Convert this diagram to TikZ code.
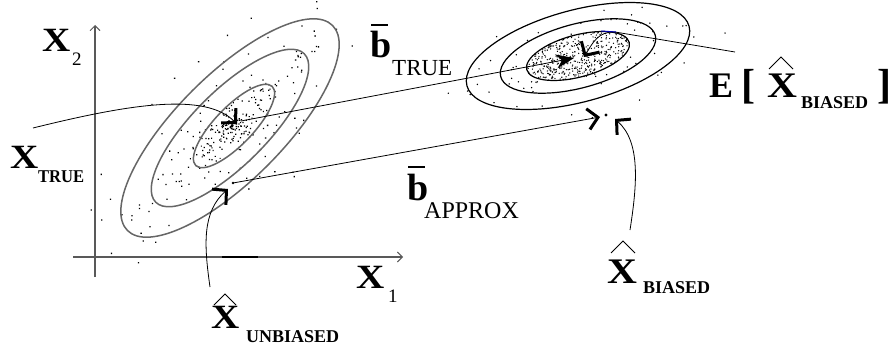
\documentclass[tikz,border=0pt]{standalone}
\usepackage{graphicx}
\usepackage{fontspec}
\setmainfont{Liberation Serif}
\usetikzlibrary{arrows.meta}
\newcommand\fsz[1]{\fontsize{#1}{#1}\selectfont}
\newcommand\wideX{\scalebox{1.15}[1]{X}}
\begin{document}
\begin{tikzpicture}[x=1pt,y=-1pt,
  lbl/.style={inner sep=0pt, anchor=base west, text=black},
  big/.style={lbl, font=\fsz{34}\bfseries},
  bigger/.style={lbl, font=\fsz{36}\bfseries},
  subb/.style={lbl, font=\fsz{18}\bfseries},
  subr/.style={lbl, font=\fsz{19}},
  ellL/.style={line width=1.5pt, black!60},
  ellR/.style={line width=1.2pt, black},
  conn/.style={line width=0.8pt, black},
  barb/.style={-{Straight Barb[length=10pt,width=21pt,line width=3pt]}},
  axis/.style={line width=1.2pt, black!65, -{Straight Barb[length=5pt,width=10pt,line width=0.9pt]}},
  hat/.style={line width=0.9pt, black},
  bbar/.style={line width=2pt, black},
]
\fill[white] (0,0) rectangle (893,345);
\useasboundingbox (0,0) rectangle (893,345);

% ---- key points
\coordinate (Lc) at (230,128);
\coordinate (Rc) at (578,56);

% ---- stipple dots, left cloud
\pgfmathsetseed{11}
\begin{scope}[shift={(232,126)}, rotate=45]
  \foreach \i in {1,...,170}{
    \pgfmathsetmacro\rr{rnd}
    \pgfmathsetmacro\pp{360*rnd}
    \fill ({58*\rr*cos(\pp)},{21*\rr*sin(\pp)}) circle[radius=0.85pt];
  }
  \foreach \i in {1,...,70}{
    \pgfmathsetmacro\rr{sqrt(rnd)}
    \pgfmathsetmacro\pp{360*rnd}
    \fill ({105*\rr*cos(\pp)},{37*\rr*sin(\pp)}) circle[radius=0.9pt];
  }
  \foreach \i in {1,...,45}{
    \pgfmathsetmacro\rr{sqrt(rnd)}
    \pgfmathsetmacro\pp{360*rnd}
    \fill ({150*\rr*cos(\pp)},{55*\rr*sin(\pp)}) circle[radius=0.9pt];
  }
  \foreach \i in {1,...,30}{
    \pgfmathsetmacro\rr{0.8+0.5*rnd}
    \pgfmathsetmacro\pp{360*rnd}
    \fill ({150*\rr*cos(\pp)},{62*\rr*sin(\pp)}) circle[radius=0.9pt];
  }
\end{scope}

% ---- stipple dots, right cloud
\begin{scope}[shift={(Rc)}, rotate=15]
  \foreach \i in {1,...,420}{
    \pgfmathsetmacro\rr{sqrt(rnd)}
    \pgfmathsetmacro\pp{360*rnd}
    \fill ({53*\rr*cos(\pp)},{21*\rr*sin(\pp)}) circle[radius=0.7pt];
  }
  \foreach \i in {1,...,35}{
    \pgfmathsetmacro\rr{sqrt(rnd)}
    \pgfmathsetmacro\pp{360*rnd}
    \fill ({80*\rr*cos(\pp)},{32*\rr*sin(\pp)}) circle[radius=0.8pt];
  }
  \foreach \i in {1,...,35}{
    \pgfmathsetmacro\rr{sqrt(rnd)}
    \pgfmathsetmacro\pp{360*rnd}
    \fill ({115*\rr*cos(\pp)},{46*\rr*sin(\pp)}) circle[radius=0.8pt];
  }
  \foreach \i in {1,...,15}{
    \pgfmathsetmacro\rr{0.9+0.4*rnd}
    \pgfmathsetmacro\pp{360*rnd}
    \fill ({120*\rr*cos(\pp)},{50*\rr*sin(\pp)}) circle[radius=0.8pt];
  }
\end{scope}

% ---- ellipses
\draw[ellL, rotate around={45:(Lc)}] (Lc) ellipse [x radius=145pt, y radius=53pt];
\draw[ellL, rotate around={45:(Lc)}] (Lc) ellipse [x radius=105pt, y radius=37pt];
\draw[ellL, rotate around={46:(234,126)}] (234,126) ellipse [x radius=55pt, y radius=19pt];
\draw[ellR, rotate around={15:(Rc)}] (Rc) ellipse [x radius=115pt, y radius=46pt];
\draw[ellR, rotate around={15:(Rc)}] (Rc) ellipse [x radius=80pt, y radius=32pt];
\draw[ellR, rotate around={15:(Rc)}] (Rc) ellipse [x radius=53pt, y radius=21pt];

% ---- axes
\coordinate (yB) at (95,277);
\coordinate (yT) at (95,25);
\coordinate (xL) at (73,257);
\coordinate (xR) at (403,257);
\draw[axis] (yB) -- (yT);
\draw[axis] (xL) -- (xR);
\coordinate (segA) at (222,257);
\coordinate (segB) at (258,257);
\draw[line width=2.6pt, black] (segA) -- (segB);

% ---- connectors
\coordinate (xtS) at (33,128);
\coordinate (xtE) at (237,124);
\draw[conn, barb] (xtS) .. controls (130,104) and (205,92) .. (xtE);

\coordinate (btS) at (241,121);
\coordinate (btE) at (574,58);
\draw[conn, -{Stealth[length=18pt,width=14pt]}] (btS) -- (btE);

\coordinate (eS) at (735,52);
\coordinate (eM) at (615,32);
\coordinate (eE) at (584,57);
\draw[conn, barb] (eS) -- (eM) .. controls (598,31) and (592,44) .. (eE);
\coordinate (blA) at (601,31);
\coordinate (blB) at (616,32);
\draw[line width=1pt, blue!70!black] (blA) -- (blB);

\coordinate (xuP) at (233,183);
\coordinate (xbP) at (606,115);
\coordinate (baE) at (600,117);
\fill (xuP) circle[radius=1.3pt];
\fill (xbP) circle[radius=1.6pt];
\draw[conn, barb] (xuP) -- (baE);

\coordinate (puS) at (210,287);
\coordinate (puE) at (228,189);
\draw[conn, barb] (puS) .. controls (204,245) and (202,212) .. (puE);

\coordinate (pbS) at (630,230);
\coordinate (pbE) at (615,119);
\draw[conn, barb] (pbS) .. controls (637,185) and (641,142) .. (pbE);

% ---- labels
\node[big] (x2) at (42,52) {\wideX};
\node[subr] (x2s) at (72,65) {2};
\node[big] (xt) at (10,168) {\wideX};
\node[subb] (xts) at (38,182) {\scalebox{0.92}[1]{TRUE}};
\node[big] (x1) at (356,288) {\wideX};
\node[subr] (x1s) at (388,302) {1};
\node[big] (xuX) at (211,328) {\wideX};
\draw[hat] (214,305) -- (225,294) -- (236,305);
\node[subb] (xus) at (246,342) {UNBIASED};

\node[lbl, font=\fsz{38}\bfseries] (bt) at (370,57) {b};
\draw[bbar] (371,25) -- (388,25);
\node[lbl, font=\fsz{23}] (bts) at (392,75) {TRUE};

\node[lbl, font=\fsz{38}\bfseries] (ba) at (407,200) {b};
\draw[bbar] (408,167) -- (425,167);
\node[lbl, font=\fsz{24}] (bas) at (424,218) {APPROX};

\node[bigger] (E) at (709,97) {E};
\node[lbl, font=\fsz{42}\bfseries] (lb) at (741,98) {[};
\node[bigger] (exX) at (767,97) {\wideX};
\draw[hat] (769,69) -- (781,57) -- (793,69);
\node[subb] (exs) at (801,108) {BIASED};
\node[lbl, font=\fsz{42}\bfseries] (rb) at (877,98) {]};

\node[bigger] (xbX) at (607,283) {\wideX};
\draw[hat] (611,253) -- (623,241) -- (635,253);
\node[subb] (xbs) at (643,293) {BIASED};
\end{tikzpicture}
\end{document}
